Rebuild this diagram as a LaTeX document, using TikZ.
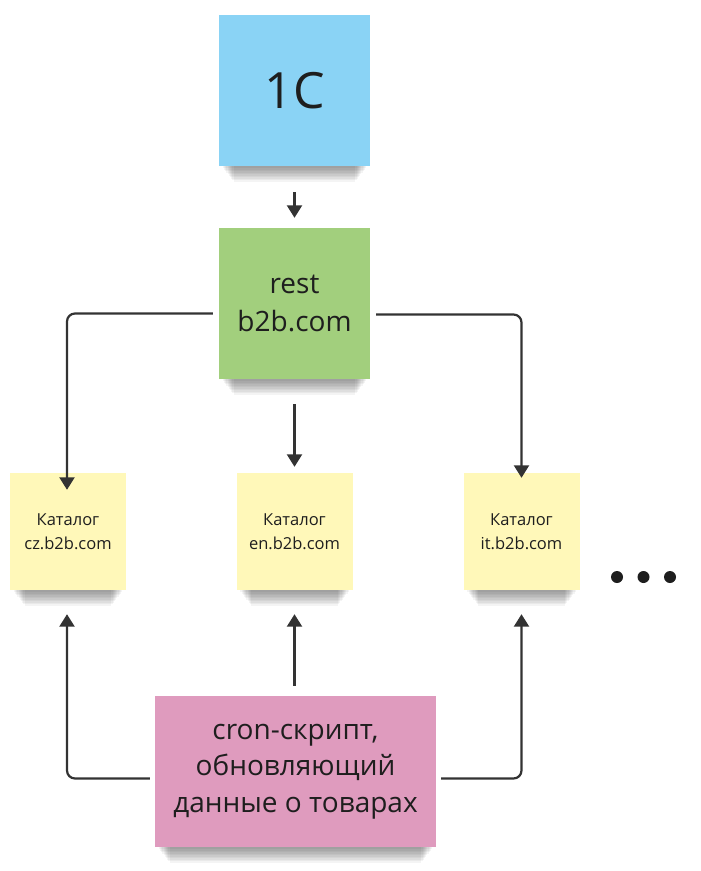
\documentclass[tikz,border=0pt]{standalone}
\usepackage{fontspec}
\setmainfont{Open Sans}
\usetikzlibrary{arrows.meta,calc}
\definecolor{noteblue}{HTML}{8AD3F5}
\definecolor{notegreen}{HTML}{A2CF7D}
\definecolor{noteyellow}{HTML}{FFF8B9}
\definecolor{notepink}{HTML}{DF9BBE}
\definecolor{ink}{HTML}{1E1E1E}
\definecolor{wire}{HTML}{333333}
\pgfdeclarelayer{bgl}
\pgfdeclarelayer{shadowl}
\pgfsetlayers{bgl,shadowl,main}
\newcommand{\noteshadow}[1]{%
  \begin{pgfonlayer}{shadowl}
  \foreach \i in {0,...,9} {
    \fill[black, fill opacity=0.045]
      ($(#1.south west)+(4+1.2*\i,-10)$) rectangle ($(#1.south east)+(-4-1.2*\i,2+1.5*\i)$);
  }
  \end{pgfonlayer}}
\tikzset{
  note/.style={rectangle, draw=none, inner sep=0pt, align=center, text=ink},
  bignote/.style={note, minimum width=151pt, minimum height=151pt},
  smallnote/.style={note, minimum width=116pt, minimum height=117pt,
    fill=noteyellow, font=\fontsize{16.5}{24}\selectfont},
  arr/.style={draw=wire, line width=2.2pt, rounded corners=8pt,
    -{Triangle[width=15pt,length=12.5pt]}},
  dot/.style={circle, fill=ink, inner sep=0pt, minimum size=12pt}
}
\begin{document}
\begin{tikzpicture}[x=1pt,y=-1pt]
\begin{pgfonlayer}{bgl}
\path[use as bounding box, fill=white] (0,0) rectangle (701,871);
\end{pgfonlayer}

\node[bignote, fill=noteblue, font=\fontsize{50}{60}\selectfont] (c1) at (294.5,90.5) {1C};
\node[bignote, fill=notegreen, font=\fontsize{28}{38}\selectfont] (rest) at (294.5,303.5) {rest\\b2b.com};

\node[smallnote] (cz) at (68,531.5) {Каталог\\cz.b2b.com};
\node[smallnote] (en) at (294.5,531.5) {Каталог\\en.b2b.com};
\node[smallnote] (it) at (521.5,531.5) {Каталог\\it.b2b.com};

\node[note, fill=notepink, minimum width=281pt, minimum height=151pt,
  font=\fontsize{28}{36.5}\selectfont] (cron) at (295.5,771.5)
  {cron-скрипт,\\обновляющий\\данные о товарах};

\noteshadow{c1}
\noteshadow{rest}
\noteshadow{cz}
\noteshadow{en}
\noteshadow{it}
\noteshadow{cron}

\node[dot] (d1) at (617,577) {};
\node[dot] (d2) at (643.5,577) {};
\node[dot] (d3) at (670,577) {};

% connectors
\draw[arr, shorten <=26pt, shorten >=10pt] (c1.south) -- (rest.north);
\draw[arr] ([xshift=-6pt,yshift=-10pt]rest.west) -| ([xshift=-1pt,yshift=-17pt]cz.north);
\draw[arr] ([xshift=6pt,yshift=-11pt]rest.east) -| ([yshift=-5pt]it.north);
\draw[arr, shorten <=25pt, shorten >=6pt] (rest.south) -- (en.north);

\draw[arr] ([xshift=-5pt,yshift=-7pt]cron.west) -| ([xshift=-1pt,yshift=-24pt]cz.south);
\draw[arr] ([xshift=5pt,yshift=-7pt]cron.east) -| ([yshift=-24pt]it.south);
\draw[arr, shorten <=10pt, shorten >=24pt] (cron.north -| en.south) -- (en.south);
\end{tikzpicture}
\end{document}
